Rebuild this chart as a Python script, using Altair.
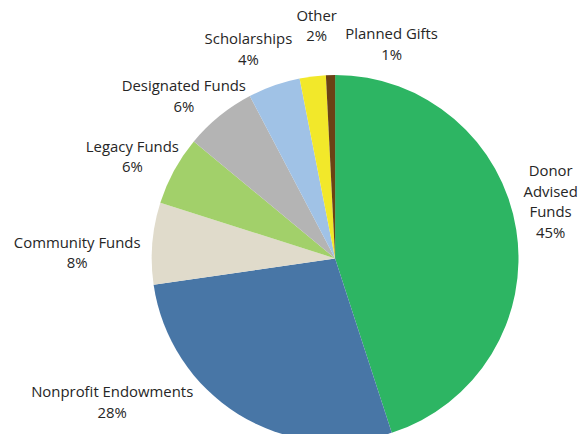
import math
import altair as alt
import pandas as pd

# ---- data ----
categories = ["Donor Advised Funds", "Nonprofit Endowments", "Community Funds",
              "Legacy Funds", "Designated Funds", "Scholarships", "Other", "Planned Gifts"]
shares = [45.0, 27.7, 7.2, 6.1, 6.3, 4.6, 2.3, 0.8]          # slice sizes (% of total)
label_text = ["Donor\nAdvised\nFunds\n45%", "Nonprofit Endowments\n28%", "Community Funds\n8%",
              "Legacy Funds\n6%", "Designated Funds\n6%", "Scholarships\n4%", "Other\n2%",
              "Planned Gifts\n1%"]
colors = ["#2DB563", "#4876A6", "#E0DBCB", "#A2D06A", "#B4B4B4", "#A0C2E6", "#F2E82A", "#6B4214"]

# ---- label layout (angle nudge from slice middle in degrees, distance from centre in px) ----
label_nudge = [-5.9, 25.4, -3.3, -1.9, -3.9, -3.0, 2.5, 16.2]
label_radius = [223, 265, 258, 227, 222, 227, 234, 222]

CX, CY, R = 327.1, 250.4, 183.4
LH = 20.6
TEXT_SHIFT = 1.8

total = sum(shares)
rows = []
cum = 0.0
for i, (c, s, t) in enumerate(zip(categories, shares, label_text)):
    mid = (cum + s / 2) / total * 360.0
    cum += s
    a = math.radians(mid + label_nudge[i])
    n_lines = t.count("\n") + 1
    rows.append({
        "idx": i, "category": c, "share": s, "label": t,
        "lab_x": CX + label_radius[i] * math.sin(a),
        "lab_y": CY - label_radius[i] * math.cos(a) - (n_lines - 1) * LH / 2 + TEXT_SHIFT,
    })
df = pd.DataFrame(rows)

base = alt.Chart(df)

pie = base.mark_arc(outerRadius=R, strokeWidth=0).encode(
    theta=alt.Theta("share:Q", stack=True),
    order=alt.Order("idx:Q", sort="ascending"),
    color=alt.Color("category:N", scale=alt.Scale(domain=categories, range=colors), legend=None),
    x=alt.value(CX),
    y=alt.value(CY),
)

labels = base.mark_text(
    font="Open Sans", fontSize=14.9, color="#262626", lineBreak="\n",
    lineHeight=LH, align="center", baseline="middle",
).encode(
    x=alt.X("lab_x:Q", scale=None),
    y=alt.Y("lab_y:Q", scale=None),
    text="label:N",
)

chart = alt.layer(pie, labels).properties(
    width=571, height=426, padding=0, autosize=alt.AutoSizeParams(type="none"),
).configure_view(stroke=None)

chart.save("out.html", embed_options={"renderer": "svg", "actions": False})
